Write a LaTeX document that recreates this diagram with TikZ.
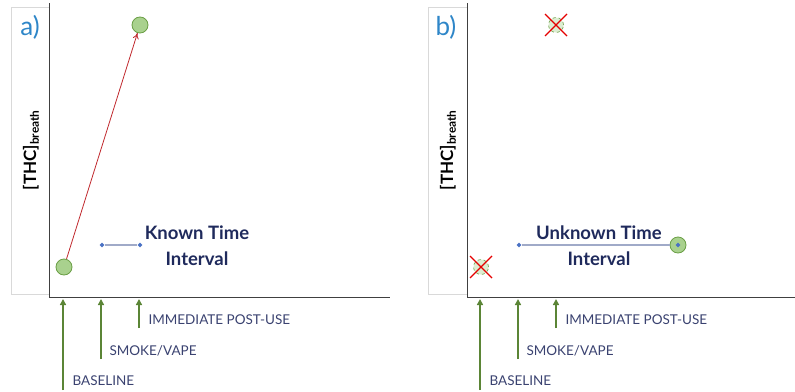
\documentclass[tikz,border=0pt]{standalone}
\usepackage{fontspec}
\setmainfont{Lato}
\usetikzlibrary{arrows.meta,shapes.geometric}
\definecolor{navy}{HTML}{1F2A5C}
\definecolor{lbl}{HTML}{3A4270}
\definecolor{pblue}{HTML}{2E86C8}
\definecolor{gfill}{HTML}{A9D18E}
\definecolor{gdraw}{HTML}{6A9E45}
\definecolor{garrow}{HTML}{5B8536}
\definecolor{ired}{HTML}{C0282D}
\definecolor{intl}{HTML}{A0AAC8}
\definecolor{dia}{HTML}{4A72C4}
\tikzset{
  pt/.style={circle,fill=gfill,draw=gdraw,line width=0.8pt,minimum size=16pt,inner sep=0pt},
  ghost/.style={circle,fill=gfill!40,draw=gdraw,dashed,line width=0.6pt,minimum size=15pt,inner sep=0pt},
  dmark/.style={diamond,fill=dia,inner sep=0pt,minimum size=5pt},
  evt/.style={draw=garrow,line width=2.2pt,-{Triangle[length=6pt,width=6pt]}},
  evlabel/.style={anchor=west,text=lbl,font=\fontsize{13.5}{14}\selectfont},
  title/.style={text=navy,font=\bfseries\fontsize{18.5}{20}\selectfont,align=center},
  ylab/.style={rotate=90,font=\bfseries\fontsize{17}{18}\selectfont},
  plab/.style={text=pblue,font=\fontsize{26}{28}\selectfont},
  axis/.style={draw=black!75,line width=1pt},
  lbox/.style={draw=black!15,line width=0.6pt},
  xmark/.style={draw=red!90!black,line width=1.3pt}
}
\begin{document}
\begin{tikzpicture}[x=1pt,y=-1pt]
\useasboundingbox (0,0) rectangle (795,391);
% ---------- panel a ----------
\draw[lbox] (11,7) rectangle (49,294);
\node[plab] (la) at (30,27) {a)};
\node[ylab] (ya) at (31,150) {[THC]\textsubscript{breath}};
\coordinate (aO) at (49,297);
\coordinate (aT) at (49,3);
\coordinate (aR) at (390,297);
\draw[axis] (aT) -- (aO) -- (aR);
\node[pt] (abase) at (64,267) {};
\node[pt] (apost) at (140,25) {};
\draw[ired,line width=0.8pt,-{To[length=6pt,width=6pt]}] (abase) -- (apost);
\node[dmark] (ai1) at (102,245) {};
\node[dmark] (ai2) at (140,245) {};
\draw[intl,line width=1.2pt] (ai1) -- (ai2);
\node[title] (at) at (197,246) {Known Time\\[6pt]Interval};
% event arrows
\coordinate (ab0) at (63,390);
\coordinate (ab1) at (63,299);
\coordinate (as0) at (101,359);
\coordinate (as1) at (101,299);
\coordinate (ap0) at (139,328);
\coordinate (ap1) at (139,299);
\draw[evt] (ab0) -- (ab1);
\draw[evt] (as0) -- (as1);
\draw[evt] (ap0) -- (ap1);
\node[evlabel] (abl) at (69,381) {BASELINE};
\node[evlabel] (asl) at (106,351) {SMOKE/VAPE};
\node[evlabel] (apl) at (145,320) {IMMEDIATE POST-USE};
% ---------- panel b ----------
\draw[lbox] (428,7) rectangle (467,294);
\node[plab] (lb) at (446,27) {b)};
\node[ylab] (yb) at (448,150) {[THC]\textsubscript{breath}};
\coordinate (bO) at (467,297);
\coordinate (bT) at (467,3);
\coordinate (bR) at (795,297);
\draw[axis] (bT) -- (bO) -- (bR);
\node[ghost] (bbase) at (481,267) {};
\draw[xmark] (bbase.center) ++(-11,-11) -- ++(22,22);
\draw[xmark] (bbase.center) ++(11,-11) -- ++(-22,22);
\node[ghost] (bpost) at (556,25) {};
\draw[xmark] (bpost.center) ++(-11,-11) -- ++(22,22);
\draw[xmark] (bpost.center) ++(11,-11) -- ++(-22,22);
\node[pt] (bmeas) at (678,245) {};
\node[dmark] (bi1) at (519,245) {};
\node[dmark] (bi2) at (678,245) {};
\draw[intl,line width=1.2pt] (bi1) -- (bmeas.west);
\node[title] (bt) at (599,246) {Unknown Time\\[6pt]Interval};
\coordinate (bb0) at (480,390);
\coordinate (bb1) at (480,299);
\coordinate (bs0) at (518,359);
\coordinate (bs1) at (518,299);
\coordinate (bp0) at (556,328);
\coordinate (bp1) at (556,299);
\draw[evt] (bb0) -- (bb1);
\draw[evt] (bs0) -- (bs1);
\draw[evt] (bp0) -- (bp1);
\node[evlabel] (bbl) at (486,381) {BASELINE};
\node[evlabel] (bsl) at (523,351) {SMOKE/VAPE};
\node[evlabel] (bpl) at (562,320) {IMMEDIATE POST-USE};
\end{tikzpicture}
\end{document}
